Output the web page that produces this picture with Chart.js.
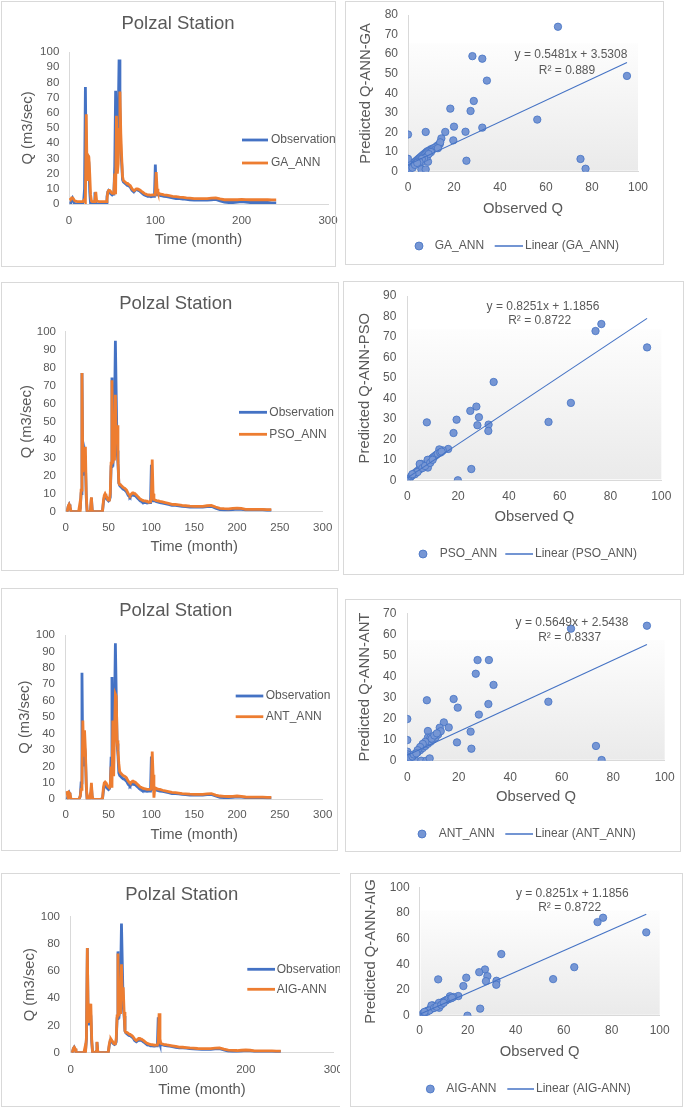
<!DOCTYPE html>
<html><head><meta charset="utf-8">
<script src="https://cdn.jsdelivr.net/npm/chart.js@4.4.0/dist/chart.umd.min.js"></script>
<style>
html,body{margin:0;padding:0;background:#fff;}
#page{position:relative;width:685px;height:1109px;overflow:hidden;background:#fff;}
.frame{position:absolute;border:1px solid #d9d9d9;box-sizing:border-box;pointer-events:none;}
canvas{position:absolute;}
</style></head><body><div id="page"></div>
<script>
// ---------- DATA ----------
const months = [1,2,3,4,5,6,7,10,13,15, 16,17,18,19,20,21,22,23,24,25, 26,27,28,29,30,31,32,35,38,41, 43,44,45,46,47,48,49,50,51,52, 53,54,55,56,57,58,59,60,61,62, 63,64,65,66,67,68,69,70,71,72, 73,74,75,76,77,78,79,80,81,82, 83,84,85,86,87,88,89,90,91,92, 93,94,95,96,97,98,99,100,101,102, 103,104,105,106,108,110,113,116,120,124, 128,132,136,140,145,150,155,160,165,170, 175,180,185,190,195,200,205,210,215,220, 225,230,235,240];
const obsQ = [0,0.5,3,4,2.5,0.5,0,0,0,0, 0.5,2,10,77,20,28,32,27,8,0, 0,0,0,1,7.7,0.5,0,0,0,0, 0.5,5,8,9,8.5,7,6.5,6,6.5,8, 25,74.5,25,32,55.6,95,64,34,27,16, 14.5,14,13.5,13,12.5,12.5,12,11.5,11,10, 9,8.5,8,8.5,9,9.5,9.5,9,9,8.5, 8,7.5,7,6.5,6,6,5.5,5.5,5,5, 5,5,4.8,4.8,5,5,5,26,8,6, 6,6,5.8,5.5,5.3,5,4.8,4.5,4,3.5, 3.5,3.3,3,2.8,2.6,2.5,2.5,2.5,2.8,3, 2,1.2,1,1,1.2,1.5,1.3,1,1,1, 1,1,0.8,0.8];
const gaQ = [4,3,4,4,3.5,2.5,2,1.5,1.5,1.5, 1.5,2,3,1.5,59,16,32,31,20,6, 2,1.5,1.5,1.5,2,8,2,1.5,1.5,1.5, 1.5,3,8,9,9,8.5,7.5,7,7,7.5, 20,6.5,58,20,26.6,49,74,46.5,31,18, 15.5,15,14.5,14,13.5,13.5,13,12.5,12,11, 10,9.5,9,9,9.5,10,10,9.8,9.5,9.2, 8.8,8.3,8,7.5,7,6.8,6.5,6.3,6,6, 6,5.8,5.8,5.8,6,6,6,6,21,10, 8,7,6.8,6.5,6.3,6,5.8,5.5,5,4.8, 4.5,4.3,4,3.8,3.6,3.5,3.5,3.5,3.8,4, 3.3,2.8,2.8,2.8,2.8,3,2.9,2.8,2.8,2.8, 2.8,2.8,2.7,2.7];
const psoQ = [0,0.5,3,4,3,0.5,0,0,0,0, 3,0.5,12,77,22,28,30,36,10,0, 0,0,0,1,8,0.5,0,0,0,0, 0.5,6,9,10,9,8,7,6.5,6.5,10, 27,73,27,36,28.5,65,38,48,30,16, 15,15,14.5,14,13.5,13.5,13,12.5,12,11, 10,9.5,9,9.5,10,10.5,10.5,10,10,9.5, 9,8.5,8,7.5,7,6.8,6.5,6.3,6,6, 6,5.8,5.8,5.5,5.5,5.5,5.5,8,29,10, 6.8,6.6,6.4,6.2,6,5.7,5.4,5.1,4.6,4.1, 4,3.8,3.5,3.3,3.1,3,3,3,3.3,3.5, 2.6,1.9,1.7,1.6,1.8,2,1.8,1.3,1.3,1.3, 1.3,1.3,1.2,1.2];
const antQ = [5,3,0.5,4,3.5,0.5,0,0,0,0, 0.5,2,6,10,48,26,42,30,10,0, 0,0,2,1,10,2,0,0,0,0, 0.5,7,10,10.5,10,9,8,7.5,7,8, 20,7,48,14,41,64,62.7,36,30,22, 17,16,15.5,15,14.5,14.5,14,13.5,13,12, 11,10.5,10,10,10.5,11,11,10.5,10.5,10, 9.5,9,8.5,8,7.5,7.3,7,6.8,6.5,6.5, 6.3,6.2,6,6,6,6,6,7,29,15, 1,7,6.8,6.5,6.2,6,5.5,5.2,4.7,4.2, 4,3.8,3.5,3.3,3.1,3,3,3,3.3,3.5, 2.6,2,1.8,1.7,1.8,2,1.8,1.4,1.3,1.3, 1.3,1.3,1.2,1.2];
const aigQ = [0,0.5,3,4,3,0.5,0,0,0,0, 3,0.5,12,77,22,28,30,36,10,0, 0,0,0,1,8,0.5,0,0,0,0, 0.5,6,9,10,9,8,7,6.5,6.5,10, 27,73,27,36,28.5,65,38,48,30,16, 15,15,14.5,14,13.5,13.5,13,12.5,12,11, 10,9.5,9,9.5,10,10.5,10.5,10,10,9.5, 9,8.5,8,7.5,7,6.8,6.5,6.3,6,6, 6,5.8,5.8,5.5,5.5,5.5,5.5,8,29,10, 6.8,6.6,6.4,6.2,6,5.7,5.4,5.1,4.6,4.1, 4,3.8,3.5,3.3,3.1,3,3,3,3.3,3.5, 2.6,1.9,1.7,1.6,1.8,2,1.8,1.3,1.3,1.3, 1.3,1.3,1.2,1.2];

const gaObs  = [65.2,28,32.3,34.3,95.2,28.6,27.2,18.4,56.2,20,32.3,25,16.2,7.7,0,19.7,14.5,13.8,13,12.5,12,11,10,9.5,9,8.5,8,7.5,7,6.5,6,5.5,5,4.5,4,3.5,3,2.5,2,1.5,1,0.5,0,0,0,0,0,0,1,2,3,5,6,8.7,8.3,5.8,7.7,25.4,75,77.2,14,13,10,9,7,6,5,4];
const gaPred = [74,59,57.7,46.5,48.9,36.1,31,32.2,26.6,23,22.5,20.4,20.3,20.3,19,16,17,14,13.5,13,12.5,12,11.5,11,10.5,10.5,10,9.5,9,8.5,8,7.5,7,6.5,6,5.5,5,4.5,4,3.5,3,2.5,2,3,4,5,6.6,1,1.5,2,3.5,4,5,5.1,7.7,1.2,1.2,5.6,6.5,1.5,15,12,10,9,7,6.5,5,4.5];
const psoObs  = [76.4,74.1,94.4,34,64.4,27.2,24.8,28.2,19.4,7.7,55.6,27.6,32,31.9,18.2,16.1,14,12.6,25.2,19.9,0,1,1.5,2,2.5,3,3.5,4,4.5,5,5.5,6,6.5,7,7.5,8,8.5,9,9.5,10,10.5,11,11.5,12,13,13.5,5,5.5,8,8.1,4.9,3,4,6,7,2,9,10];
const psoPred = [76.3,72.9,64.9,48,37.8,36,33.9,30.8,29.6,28.3,28.5,26.9,27.2,24.1,23.1,15.3,14.6,15.1,5.5,0,0,1,2,2.5,3,3.5,4,4.5,5,5.5,6,6.5,7,7.5,8,9,9.5,10,10.5,11,11.5,12,12.5,13,13.5,14,7.5,8,10,6.2,8,3,4,6,7,3,8.5,10];
const antObs  = [93.1,63.6,27.3,31.7,26.6,33.5,7.6,18,54.8,31.5,19.6,27.8,0,14.2,16.1,12.6,24.6,8,19.3,24.9,73.3,75.5,0,0,0,0,0,1.3,0,3.2,5.4,7.4,8.7,1,2,3,4,5,6,7,8,9,10,11,12,13,8,9,7,6,5,4,2.5,3.5,9.5,10.5,11.5];
const antPred = [64.1,62.7,47.8,47.8,41.3,36,28.7,29.3,28,26.9,25.2,21.9,19.8,18.2,15.8,15.7,13.8,14.1,8.7,5.7,7,0.3,9.8,4.3,3,2,1,0.6,0,0,0,0,1.1,1.5,2,3,4,5,6,7,8,9,10,11,12.5,14,11,11,9,8,6.5,5,3,3.5,10.5,12,13];
const aigObs  = [76.4,74.1,94.4,34,64.4,27.2,24.8,28.2,19.4,7.7,55.6,27.6,32,31.9,18.2,16.1,14,12.6,25.2,19.9,0,1,1.5,2,2.5,3,3.5,4,4.5,5,5.5,6,6.5,7,7.5,8,8.5,9,9.5,10,10.5,11,11.5,12,13,13.5,5,5.5,8,8.1,4.9,3,4,6,7,2,9,10];
const aigPred = [76.3,72.9,64.9,48,37.8,36,33.9,30.8,29.6,28.3,28.5,26.9,27.2,24.1,23.1,15.3,14.6,15.1,5.5,0,0,1,2,2.5,3,3.5,4,4.5,5,5.5,6,6.5,7,7.5,8,9,9.5,10,10.5,11,11.5,12,12.5,13,13.5,14,7.5,8,10,6.2,8,3,4,6,7,3,8.5,10];

// trendline coefficients as printed on the charts [slope, intercept]
const gaTrend  = [0.5481, 3.5308];
const psoTrend = [0.8251, 1.1856];
const antTrend = [0.5649, 2.5438];
const aigTrend = [0.8251, 1.1856];

const tsXTicks100 = [0,100,200,300];
const tsXTicks50 = [0,50,100,150,200,250,300];

// ---------- RENDERING ----------
const FONT = "'Liberation Sans', Arial, sans-serif";
const TXT = '#595959';
const BLUE = '#4472C4', ORANGE = '#ED7D31';
const AX = 14.8, AXLH = AX * 1.2;
const page = document.getElementById('page');

function addPanel(p) {
  const f = document.createElement('div');
  f.className = 'frame';
  f.style.left = p.L + 'px'; f.style.top = p.T + 'px';
  f.style.width = p.W + 'px'; f.style.height = p.H + 'px';
  if (p.openRight) f.style.borderRight = 'none';
  const cw = p.CW || p.W;
  const c = document.createElement('canvas');
  c.width = cw; c.height = p.H;
  c.style.left = p.L + 'px'; c.style.top = p.T + 'px';
  c.style.width = cw + 'px'; c.style.height = p.H + 'px';
  page.appendChild(c); page.appendChild(f);
  return c;
}

const overlay = {
  id: 'overlay',
  beforeDraw(chart, args, o) {
    if (!o.gradient) return;
    const ctx = chart.ctx, a = chart.chartArea;
    const t = a.top + (a.bottom - a.top) * 0.18;
    const g = ctx.createLinearGradient(0, t, 0, a.bottom);
    g.addColorStop(0, 'rgba(253,253,253,1)');
    g.addColorStop(1, 'rgba(234,234,234,1)');
    ctx.save(); ctx.fillStyle = g;
    ctx.fillRect(a.left + 1, t, a.right - a.left - 1, a.bottom - t - 1);
    ctx.restore();
  },
  afterDraw(chart, args, o) {
    const ctx = chart.ctx;
    (o.lines || []).forEach(l => {
      ctx.save(); ctx.strokeStyle = l.color; ctx.lineWidth = l.w;
      ctx.beginPath(); ctx.moveTo(l.x1, l.y); ctx.lineTo(l.x2, l.y); ctx.stroke(); ctx.restore();
    });
    (o.dots || []).forEach(d => {
      ctx.save(); ctx.fillStyle = 'rgb(118,150,212)'; ctx.strokeStyle = BLUE; ctx.lineWidth = 0.8;
      ctx.beginPath(); ctx.arc(d.x, d.y, 4, 0, Math.PI * 2); ctx.fill(); ctx.stroke(); ctx.restore();
    });
    (o.texts || []).forEach(t => {
      ctx.save(); ctx.font = t.size + 'px ' + FONT; ctx.fillStyle = TXT;
      ctx.textAlign = t.align || 'center'; ctx.textBaseline = 'middle';
      ctx.fillText(t.text, t.x, t.y); ctx.restore();
    });
  }
};

function scalesFor(p, xTitle, yTitle, xMax, xStep, yMax, yStep, tickSize) {
  const cw = p.CW || p.W;
  const padLeft = p.yTitleX - p.L - AXLH / 2;
  const yW = (p.x0 - p.L) - padLeft;
  const padBottom = p.T + p.H - (p.xTitleY + AXLH / 2);
  const xH = p.xTitleY + AXLH / 2 - p.y0;
  const layout = { autoPadding: false, padding: { left: padLeft, top: p.y1 - p.T, right: p.L + cw - p.x1, bottom: padBottom } };
  const common = { grid: { display: false, drawTicks: false }, border: { display: true, color: '#d9d9d9', width: 1 } };
  const scales = {
    x: Object.assign({}, common, {
      type: 'linear', min: 0, max: xMax,
      ticks: { stepSize: xStep, color: TXT, font: { family: FONT, size: tickSize }, padding: p.xTickY - p.y0 - tickSize * 0.6, maxRotation: 0, autoSkip: false },
      title: { display: true, text: xTitle, color: TXT, font: { family: FONT, size: AX }, padding: 0 },
      afterFit(s) { s.height = xH; s.paddingLeft = 0; s.paddingRight = 0; }
    }),
    y: Object.assign({}, common, {
      type: 'linear', min: 0, max: yMax,
      ticks: { stepSize: yStep, color: TXT, font: { family: FONT, size: tickSize }, padding: p.x0 - p.yTickRight, autoSkip: false },
      title: { display: true, text: yTitle, color: TXT, font: { family: FONT, size: AX }, padding: 0 },
      afterFit(s) { s.width = yW; s.paddingTop = 0; s.paddingBottom = 0; }
    })
  };
  return { layout, scales };
}

function pts(xs, ys) { return xs.map((x, i) => ({ x: x, y: ys[i] })); }

function timeSeries(p) {
  const c = addPanel(p);
  const { layout, scales } = scalesFor(p, 'Time (month)', 'Q (m3/sec)', 300, p.xTicks[1] - p.xTicks[0], 100, p.yStep, 11.5);
  const ox = p.L, oy = p.T;
  new Chart(c, {
    type: 'scatter',
    data: { datasets: [
      { label: p.label, data: pts(months, p.pred), showLine: true, borderColor: ORANGE, borderWidth: 2.8, pointRadius: 0, order: 0, tension: 0 },
      { label: 'Observation', data: pts(months, obsQ), showLine: true, borderColor: BLUE, borderWidth: 2.8, pointRadius: 0, order: 1, tension: 0 }
    ] },
    options: {
      responsive: false, animation: false, devicePixelRatio: 1, events: [],
      layout, scales,
      plugins: { legend: { display: false }, tooltip: { enabled: false },
        overlay: {
          texts: [
            { text: 'Polzal Station', x: p.titleX - ox, y: p.titleY - oy, size: 18.5 },
            { text: 'Observation', x: p.tx - ox, y: p.r1 - oy, size: 12, align: 'left' },
            { text: p.label, x: p.tx - ox, y: p.r2 - oy, size: 12, align: 'left' }
          ],
          lines: [
            { x1: p.lx1 - ox, x2: p.lx2 - ox, y: p.r1 - oy, color: BLUE, w: 2.8 },
            { x1: p.lx1 - ox, x2: p.lx2 - ox, y: p.r2 - oy, color: ORANGE, w: 2.8 }
          ]
        } }
    },
    plugins: [overlay]
  });
}

function scatterChart(p) {
  const c = addPanel(p);
  const { layout, scales } = scalesFor(p, 'Observed Q', p.yTitle, 100, 20, p.yMax, p.yStep, 12);
  const ox = p.L, oy = p.T;
  const xEnd = Math.max.apply(null, p.xs);
  const trend = [{ x: 0, y: p.trend[1] }, { x: xEnd, y: p.trend[0] * xEnd + p.trend[1] }];
  new Chart(c, {
    type: 'scatter',
    data: { datasets: [
      { label: 'Linear (' + p.label + ')', data: trend, showLine: true, borderColor: BLUE, borderWidth: 1.1, pointRadius: 0, order: 0 },
      { label: p.label, data: pts(p.xs, p.ys), pointRadius: 3.7, pointBackgroundColor: 'rgb(118,150,212)', pointBorderColor: BLUE, pointBorderWidth: 0.8, order: 1 }
    ] },
    options: {
      responsive: false, animation: false, devicePixelRatio: 1, events: [],
      layout, scales,
      plugins: { legend: { display: false }, tooltip: { enabled: false },
        overlay: {
          gradient: true,
          texts: [
            { text: p.eq, x: p.eqX - ox, y: p.eqY - oy, size: 12 },
            { text: p.r2, x: p.r2X - ox, y: p.r2Y - oy, size: 12 },
            { text: p.label, x: p.t1x - ox, y: p.by - oy, size: 12, align: 'left' },
            { text: 'Linear (' + p.label + ')', x: p.t2x - ox, y: p.by - oy, size: 12, align: 'left' }
          ],
          lines: [{ x1: p.lx1 - ox, x2: p.lx2 - ox, y: p.by - oy, color: BLUE, w: 1.5 }],
          dots: [{ x: p.bx - ox, y: p.by - oy }]
        } }
    },
    plugins: [overlay]
  });
}

timeSeries({ L: 1, T: 1, W: 335, CW: 342, H: 266, x0: 69, x1: 328, y0: 204, y1: 52, yTitleX: 28, xTitleY: 240, yTickRight: 59.3, xTickY: 221,
  xTicks: tsXTicks100, yStep: 10, titleX: 178, titleY: 24, lx1: 242, lx2: 268, tx: 271, r1: 140, r2: 163, label: 'GA_ANN', pred: gaQ });
timeSeries({ L: 1, T: 282, W: 338, H: 289, x0: 65.7, x1: 322.7, y0: 511.7, y1: 331.7, yTitleX: 26.7, xTitleY: 546.7, yTickRight: 56, xTickY: 528.3,
  xTicks: tsXTicks50, yStep: 10, titleX: 175.7, titleY: 304, lx1: 239, lx2: 267, tx: 269.3, r1: 412.3, r2: 434.3, label: 'PSO_ANN', pred: psoQ });
timeSeries({ L: 1, T: 588, W: 337, H: 263, x0: 65.7, x1: 322.7, y0: 799.3, y1: 635, yTitleX: 25, xTitleY: 835, yTickRight: 55, xTickY: 815,
  xTicks: tsXTicks50, yStep: 10, titleX: 175.7, titleY: 611, lx1: 235.7, lx2: 263.3, tx: 265.7, r1: 696, r2: 716.7, label: 'ANT_ANN', pred: antQ });
timeSeries({ L: 1, T: 873, W: 339, H: 234, x0: 70.7, x1: 333.3, y0: 1052.7, y1: 916.7, yTitleX: 30, xTitleY: 1090, yTickRight: 60, xTickY: 1070,
  xTicks: tsXTicks100, yStep: 20, titleX: 181.7, titleY: 895, lx1: 247.3, lx2: 275, tx: 276.7, r1: 969.3, r2: 989.3, label: 'AIG-ANN', pred: aigQ, openRight: true });

scatterChart({ L: 345, T: 1, W: 319, H: 264, x0: 408, x1: 638, y0: 171.7, y1: 15, yTitleX: 366.3, xTitleY: 209.3, yTickRight: 398, xTickY: 187.7,
  yMax: 80, yStep: 10, yTitle: 'Predicted Q-ANN-GA', eq: 'y = 0.5481x + 3.5308', r2: 'R² = 0.889', eqX: 571, eqY: 55, r2X: 567, r2Y: 71,
  bx: 419, by: 246, t1x: 434.7, lx1: 494.7, lx2: 523, t2x: 525, label: 'GA_ANN', xs: gaObs, ys: gaPred, trend: gaTrend });
scatterChart({ L: 343, T: 281, W: 341, H: 294, x0: 407.3, x1: 661.3, y0: 480.3, y1: 296, yTitleX: 364.7, xTitleY: 517.3, yTickRight: 396.3, xTickY: 496.7,
  yMax: 90, yStep: 10, yTitle: 'Predicted Q-ANN-PSO', eq: 'y = 0.8251x + 1.1856', r2: 'R² = 0.8722', eqX: 543, eqY: 306.7, r2X: 539.7, r2Y: 321,
  bx: 423, by: 554, t1x: 439.7, lx1: 505.3, lx2: 533, t2x: 535, label: 'PSO_ANN', xs: psoObs, ys: psoPred, trend: psoTrend });
scatterChart({ L: 345, T: 599, W: 336, H: 253, x0: 407.3, x1: 664.7, y0: 760.7, y1: 613.3, yTitleX: 364.7, xTitleY: 797.3, yTickRight: 396.3, xTickY: 777.7,
  yMax: 70, yStep: 10, yTitle: 'Predicted Q-ANN-ANT', eq: 'y = 0.5649x + 2.5438', r2: 'R² = 0.8337', eqX: 572, eqY: 622.7, r2X: 569.7, r2Y: 637.7,
  bx: 422, by: 834, t1x: 438.7, lx1: 505.3, lx2: 533, t2x: 535, label: 'ANT_ANN', xs: antObs, ys: antPred, trend: antTrend });
scatterChart({ L: 350, T: 873, W: 333, H: 234, x0: 419.7, x1: 659.7, y0: 1015.7, y1: 887.3, yTitleX: 371.3, xTitleY: 1052.3, yTickRight: 409.7, xTickY: 1031,
  yMax: 100, yStep: 20, yTitle: 'Predicted Q-ANN-AIG', eq: 'y = 0.8251x + 1.1856', r2: 'R² = 0.8722', eqX: 572.3, eqY: 893.3, r2X: 569.7, r2Y: 907.7,
  bx: 430.3, by: 1089, t1x: 446.3, lx1: 507.3, lx2: 534, t2x: 536, label: 'AIG-ANN', xs: aigObs, ys: aigPred, trend: aigTrend });
</script></body></html>
